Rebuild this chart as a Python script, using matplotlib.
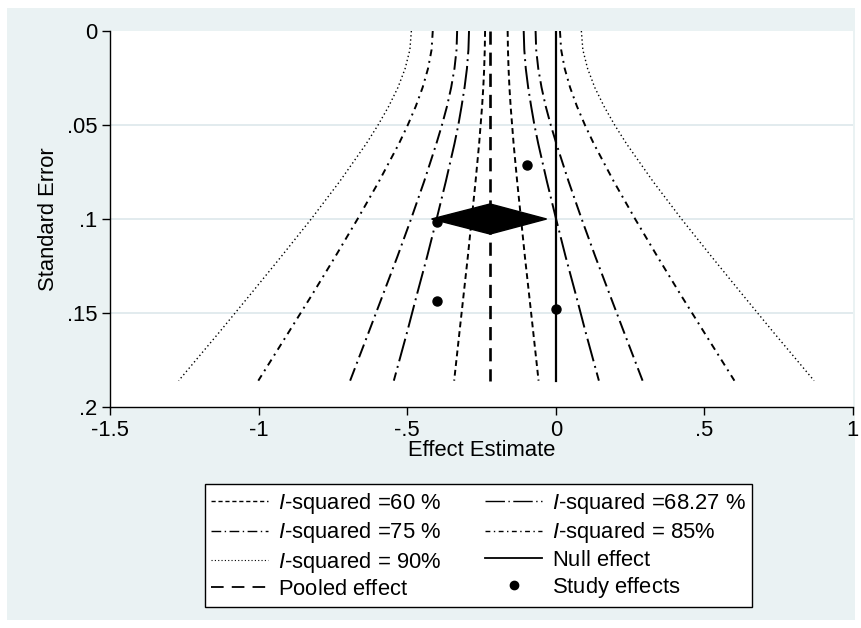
import matplotlib
matplotlib.use("Agg")
import matplotlib.pyplot as plt
from matplotlib.patches import Rectangle, Polygon
from matplotlib.lines import Line2D

plt.rcParams['font.family'] = ['Liberation Sans', 'DejaVu Sans']
plt.rcParams['mathtext.fontset'] = 'custom'
plt.rcParams['mathtext.it'] = 'Liberation Sans:italic'
plt.rcParams['mathtext.rm'] = 'Liberation Sans'

# ---- data ----
se_levels = [0, 0.01, 0.02, 0.03, 0.04, 0.05, 0.06, 0.08, 0.10, 0.12, 0.14, 0.16, 0.186]

i60_left  = [-0.238, -0.239, -0.241, -0.244, -0.248, -0.253, -0.258, -0.270, -0.283, -0.296, -0.310, -0.324, -0.342]
i60_right = [-0.162, -0.161, -0.159, -0.156, -0.152, -0.147, -0.142, -0.130, -0.117, -0.104, -0.090, -0.076, -0.058]
i68_left  = [-0.292, -0.294, -0.299, -0.307, -0.317, -0.328, -0.341, -0.370, -0.401, -0.433, -0.467, -0.500, -0.545]
i68_right = [-0.108, -0.106, -0.101, -0.093, -0.083, -0.072, -0.059, -0.030, 0.001, 0.033, 0.067, 0.100, 0.145]
i75_left  = [-0.332, -0.334, -0.341, -0.352, -0.366, -0.383, -0.402, -0.443, -0.487, -0.533, -0.581, -0.629, -0.692]
i75_right = [-0.068, -0.066, -0.059, -0.048, -0.034, -0.017, 0.002, 0.043, 0.087, 0.133, 0.181, 0.229, 0.292]
i85_left  = [-0.414, -0.418, -0.430, -0.448, -0.471, -0.498, -0.528, -0.595, -0.667, -0.742, -0.819, -0.898, -1.001]
i85_right = [0.014, 0.018, 0.030, 0.048, 0.071, 0.098, 0.128, 0.195, 0.267, 0.342, 0.419, 0.498, 0.601]
i90_left  = [-0.486, -0.491, -0.507, -0.531, -0.562, -0.598, -0.638, -0.727, -0.823, -0.924, -1.027, -1.131, -1.269]
i90_right = [0.086, 0.091, 0.107, 0.131, 0.162, 0.198, 0.238, 0.327, 0.423, 0.524, 0.627, 0.731, 0.869]

pooled_effect = -0.221
pooled_ci = [-0.418, -0.031]
pooled_se = 0.100
diamond_half_height = 0.008
null_effect = 0.0
line_se_range = [0, 0.186]

study_effect = [-0.097, -0.401, -0.400, 0.000]
study_se     = [0.0713, 0.1017, 0.1435, 0.1480]

xticks = [-1.5, -1, -0.5, 0, 0.5, 1]
xtick_labels = ['-1.5', '-1', '-.5', '0', '.5', '1']
yticks = [0, 0.05, 0.1, 0.15, 0.2]
ytick_labels = ['0', '.05', '.1', '.15', '.2']

strut = '$\\,$'
labels = ['$\\mathit{I}$-squared =60 %', '$\\mathit{I}$-squared =68.27 %',
          '$\\mathit{I}$-squared =75 %', '$\\mathit{I}$-squared = 85%',
          '$\\mathit{I}$-squared = 90%', 'Null effect' + strut,
          'Pooled effect' + strut, 'Study effects' + strut]

FS = 15.8

# ---- figure ----
W, H = 862, 628
fig = plt.figure(figsize=(W / 100, H / 100), dpi=100)
fig.patch.set_facecolor('white')
bg = '#EAF2F3'
fig.patches.append(Rectangle((7 / W, 8 / H), (855 - 7) / W, (620 - 8) / H,
                             transform=fig.transFigure, facecolor=bg,
                             edgecolor='none', zorder=-10))

ax = fig.add_axes([110 / W, 1 - 407 / H, 743 / W, 376 / H])
ax.set_facecolor('white')
ax.set_xlim(-1.5, 1)
ax.set_ylim(0.2, 0)

for y in [0.05, 0.1, 0.15]:
    ax.axhline(y, color='#DDE7EB', lw=1.2, zorder=0)

lw = 1.4
sty = {
    '60': dict(color='black', lw=lw, ls=(0, (3, 2))),
    '68': dict(color='black', lw=lw, ls=(0, (12, 2.5, 1, 2.5))),
    '75': dict(color='black', lw=lw, ls=(0, (7, 2.5, 1, 2.5))),
    '85': dict(color='black', lw=lw, ls=(0, (3.5, 2.5, 1, 2.5))),
    '90': dict(color='black', lw=1.0, ls=(0, (1, 2))),
}
ax.plot(i60_left, se_levels, **sty['60'])
ax.plot(i60_right, se_levels, **sty['60'])
ax.plot(i68_left, se_levels, **sty['68'])
ax.plot(i68_right, se_levels, **sty['68'])
ax.plot(i75_left, se_levels, **sty['75'])
ax.plot(i75_right, se_levels, **sty['75'])
ax.plot(i85_left, se_levels, **sty['85'])
ax.plot(i85_right, se_levels, **sty['85'])
ax.plot(i90_left, se_levels, **sty['90'])
ax.plot(i90_right, se_levels, **sty['90'])

ax.plot([null_effect, null_effect], line_se_range, color='black', lw=1.6)
ax.plot([pooled_effect, pooled_effect], line_se_range, color='black',
        lw=1.9, ls=(0, (5, 3)))

diamond = Polygon([[pooled_ci[0], pooled_se],
                   [pooled_effect, pooled_se - diamond_half_height],
                   [pooled_ci[1], pooled_se],
                   [pooled_effect, pooled_se + diamond_half_height]],
                  closed=True, facecolor='black', edgecolor='black', zorder=4)
ax.add_patch(diamond)

ax.plot(study_effect, study_se, 'o', color='black', ms=6.5, ls='none', zorder=5)

ax.set_xticks(xticks)
ax.set_xticklabels(xtick_labels)
ax.set_yticks(yticks)
ax.set_yticklabels(ytick_labels)
ax.tick_params(axis='both', labelsize=FS, length=6, width=1, color='black', pad=3)
for s in ['top', 'right']:
    ax.spines[s].set_visible(False)
for s in ['left', 'bottom']:
    ax.spines[s].set_linewidth(1.0)
ax.set_xlabel('Effect Estimate', fontsize=FS, labelpad=0)
ax.set_ylabel('Standard Error', fontsize=FS, labelpad=6)

pl60 = Line2D([], [], color='black', lw=1.0, ls=(0, (3, 2)))
pl68 = Line2D([], [], color='black', lw=1.0, ls=(0, (14, 2.5, 1, 2.5)))
pl75 = Line2D([], [], color='black', lw=1.0, ls=(0, (7, 2.5, 1, 2.5)))
pl85 = Line2D([], [], color='black', lw=1.0, ls=(0, (3.5, 2.5, 1, 2.5)))
pl90 = Line2D([], [], color='black', lw=0.8, ls=(0, (1, 2)))
plnull = Line2D([], [], color='black', lw=1.3)
plpool = Line2D([], [], color='black', lw=1.3, ls=(0, (7, 4.5)))
plstudy = Line2D([], [], color='black', marker='o', ms=6, ls='none')

handles = [pl60, pl75, pl90, plpool, pl68, pl85, plnull, plstudy]
order_labels = [labels[0], labels[2], labels[4], labels[6],
                labels[1], labels[3], labels[5], labels[7]]
leg = fig.legend(handles, order_labels, loc='center',
                 bbox_to_anchor=(478.5 / W, 1 - 545.5 / H), ncol=2,
                 fontsize=FS, frameon=True, fancybox=False,
                 edgecolor='black', facecolor='white', framealpha=1,
                 handlelength=2.6, handletextpad=0.45, columnspacing=2.0,
                 labelspacing=0.2, borderpad=0.3, borderaxespad=0)
leg.get_frame().set_linewidth(1.0)

fig.savefig('out.png', dpi=100, facecolor='white')
